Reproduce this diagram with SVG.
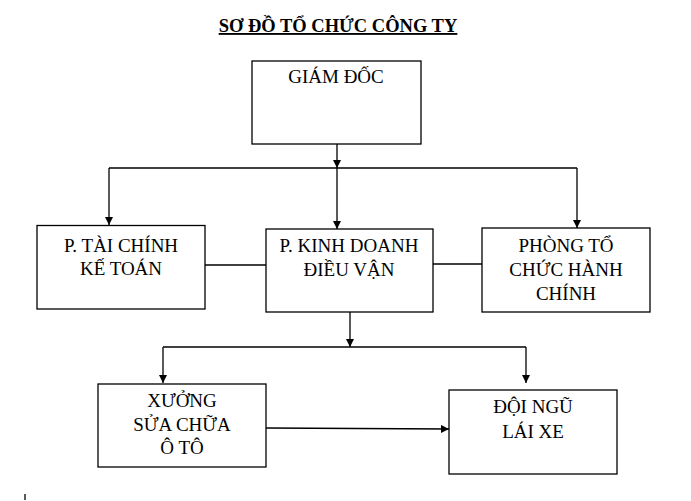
<svg xmlns="http://www.w3.org/2000/svg" width="691" height="501" viewBox="0 0 691 501">
<defs>
<marker id="arr" viewBox="0 0 8 8" refX="8" refY="4" markerWidth="8" markerHeight="8" markerUnits="userSpaceOnUse" orient="auto">
<path d="M0,0 L8,4 L0,8 Z" fill="#000"/>
</marker>
<style>
.box{fill:#fff;stroke:#000;stroke-width:1.3}
.t{font-family:"Liberation Serif","Times New Roman",serif;font-size:19px;text-anchor:middle;fill:#000}
.ln{fill:none;stroke:#000;stroke-width:1.3}
.title{font-family:"Liberation Serif","Times New Roman",serif;font-size:18.5px;font-weight:bold;text-anchor:middle;text-decoration:underline;fill:#000}
</style>
</defs>
<rect width="691" height="501" fill="#fff"/>
<text class="title" x="338" y="32">SƠ ĐỒ TỔ CHỨC CÔNG TY</text>
<g id="connectors">
<line class="ln" x1="337" y1="144" x2="337" y2="168" marker-end="url(#arr)"/>
<polyline class="ln" points="109,168 577,168"/>
<line class="ln" x1="109" y1="168" x2="109" y2="225" marker-end="url(#arr)"/>
<line class="ln" x1="337" y1="168" x2="337" y2="229" marker-end="url(#arr)"/>
<line class="ln" x1="577" y1="168" x2="577" y2="228" marker-end="url(#arr)"/>
<line class="ln" x1="205" y1="265" x2="266" y2="265"/>
<line class="ln" x1="433" y1="264" x2="482" y2="264"/>
<line class="ln" x1="350" y1="312" x2="350" y2="347" marker-end="url(#arr)"/>
<polyline class="ln" points="163,347 526,347"/>
<line class="ln" x1="163" y1="347" x2="163" y2="383" marker-end="url(#arr)"/>
<line class="ln" x1="526" y1="347" x2="526" y2="383" marker-end="url(#arr)"/>
<line class="ln" x1="266" y1="428" x2="449" y2="429" marker-end="url(#arr)"/>
<line class="ln" x1="25" y1="494" x2="25" y2="500"/>
</g>
<g id="giam-doc">
<rect class="box" x="252" y="61" width="169" height="83"/>
<text class="t" x="336" y="83">GIÁM ĐỐC</text>
</g>
<g id="tai-chinh">
<rect class="box" x="37" y="225.5" width="168" height="83.5"/>
<text class="t" x="121" y="252">P. TÀI CHÍNH</text>
<text class="t" x="121" y="275">KẾ TOÁN</text>
</g>
<g id="kinh-doanh">
<rect class="box" x="266" y="229" width="167" height="83"/>
<text class="t" x="349" y="252">P. KINH DOANH</text>
<text class="t" x="349" y="276">ĐIỀU VẬN</text>
</g>
<g id="to-chuc">
<rect class="box" x="482" y="228" width="168" height="84"/>
<text class="t" x="566" y="252">PHÒNG TỔ</text>
<text class="t" x="566" y="276">CHỨC HÀNH</text>
<text class="t" x="566" y="300">CHÍNH</text>
</g>
<g id="xuong">
<rect class="box" x="98" y="384" width="168" height="83"/>
<text class="t" x="182" y="407">XƯỞNG</text>
<text class="t" x="182" y="431">SỬA CHỮA</text>
<text class="t" x="182" y="454">Ô TÔ</text>
</g>
<g id="doi-ngu">
<rect class="box" x="449" y="390" width="168" height="84"/>
<text class="t" x="533" y="413">ĐỘI NGŨ</text>
<text class="t" x="533" y="438">LÁI XE</text>
</g>
</svg>
